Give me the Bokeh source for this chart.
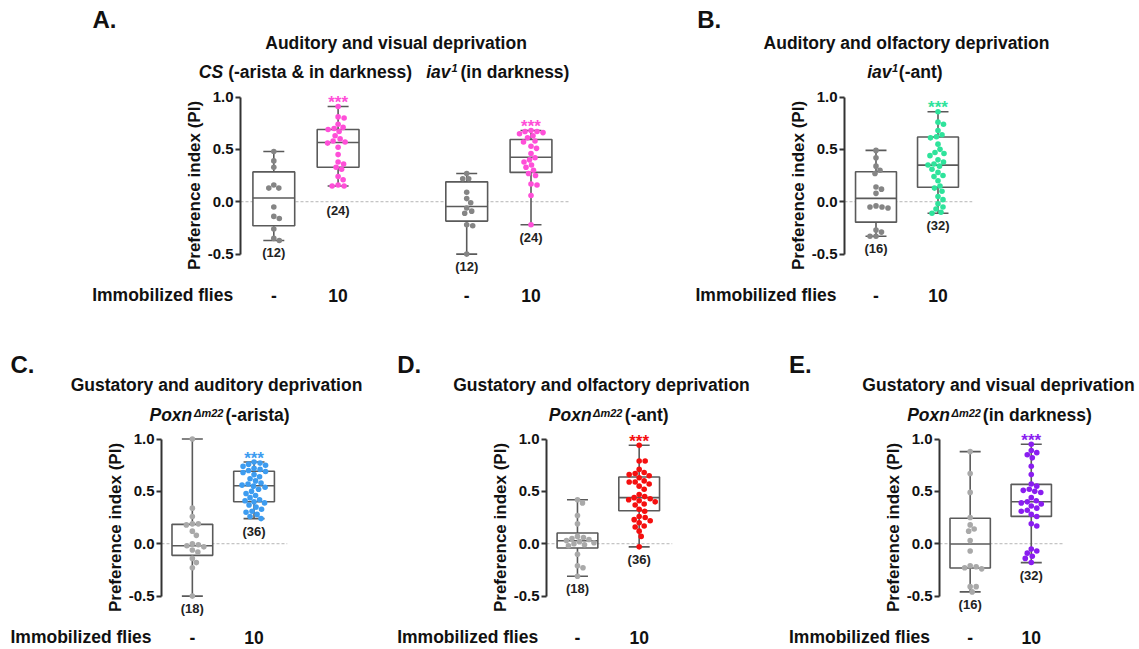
import numpy as np
from bokeh.plotting import figure
from bokeh.models import Span, ColumnDataSource, Range1d, FixedTicker
from bokeh.layouts import row, column
from bokeh.embed import file_html
from bokeh.resources import INLINE
from bokeh.core.properties import value

# ---------------- data ----------------
y_ticks = [-0.5, 0.0, 0.5, 1.0]
y_tick_labels = ["-0.5", "0.0", "0.5", "1.0"]
immobilized = ["-", "10"]

# Panel A: CS (-arista & in darkness) | iav1 (in darkness)
A_cs_ctrl = [0.48, 0.39, 0.33, 0.16, 0.13, 0.13, -0.05, -0.14, -0.16, -0.26, -0.35, -0.37]
A_cs_imm = [0.91, 0.81, 0.80, 0.74, 0.71, 0.70, 0.69, 0.67, 0.63, 0.60, 0.58, 0.57,
            0.56, 0.52, 0.45, 0.38, 0.36, 0.33, 0.31, 0.24, 0.21, 0.16, 0.15, 0.15]
A_iav_ctrl = [0.27, 0.22, 0.22, 0.09, 0.03, -0.01, -0.06, -0.09, -0.11, -0.22, -0.23, -0.50]
A_iav_imm = [0.68, 0.67, 0.67, 0.66, 0.65, 0.63, 0.61, 0.58, 0.57, 0.53, 0.51, 0.46,
             0.42, 0.40, 0.38, 0.35, 0.33, 0.30, 0.27, 0.25, 0.17, 0.16, 0.06, -0.22]
A_q1 = [-0.23, 0.33, -0.185, 0.28]
A_med = [0.035, 0.565, -0.045, 0.425]
A_q3 = [0.285, 0.69, 0.19, 0.595]

# Panel B: iav1 (-ant)
B_ctrl = [0.49, 0.42, 0.34, 0.30, 0.27, 0.14, 0.12, 0.08, -0.04, -0.05, -0.05, -0.06,
          -0.27, -0.29, -0.33, -0.33]
B_imm = [0.86, 0.76, 0.74, 0.68, 0.64, 0.62, 0.61, 0.55, 0.50, 0.47, 0.46, 0.44, 0.40,
         0.38, 0.36, 0.35, 0.34, 0.31, 0.28, 0.25, 0.24, 0.20, 0.15, 0.13, 0.10, 0.05,
         0.02, -0.02, -0.05, -0.07, -0.10, -0.11]
B_q1 = [-0.195, 0.138]
B_med = [0.032, 0.35]
B_q3 = [0.287, 0.618]

# Panel C: Poxn (-arista)
C_ctrl = [1.0, 0.34, 0.26, 0.19, 0.19, 0.18, 0.12, 0.08, 0.0, -0.01, -0.02, -0.03,
          -0.06, -0.08, -0.14, -0.18, -0.23, -0.50]
C_imm = [0.78, 0.77, 0.76, 0.75, 0.74, 0.72, 0.71, 0.70, 0.69, 0.68, 0.66, 0.64, 0.62,
         0.60, 0.58, 0.57, 0.56, 0.55, 0.54, 0.52, 0.50, 0.48, 0.46, 0.44, 0.42, 0.41,
         0.40, 0.39, 0.37, 0.35, 0.33, 0.31, 0.30, 0.28, 0.26, 0.24]
C_q1 = [-0.111, 0.401]
C_med = [-0.019, 0.554]
C_q3 = [0.185, 0.692]

# Panel D: Poxn (-ant)
D_ctrl = [0.42, 0.39, 0.27, 0.19, 0.07, 0.06, 0.05, 0.04, 0.03, 0.02, 0.01, 0.0,
          -0.01, -0.02, -0.10, -0.21, -0.23, -0.31]
D_imm = [0.94, 0.79, 0.79, 0.71, 0.68, 0.67, 0.66, 0.65, 0.63, 0.60, 0.59, 0.59, 0.57,
         0.55, 0.52, 0.47, 0.45, 0.44, 0.43, 0.42, 0.41, 0.40, 0.38, 0.37, 0.33, 0.31,
         0.26, 0.25, 0.23, 0.22, 0.20, 0.17, 0.16, 0.12, 0.07, -0.03]
D_q1 = [-0.041, 0.315]
D_med = [0.029, 0.44]
D_q3 = [0.102, 0.637]

# Panel E: Poxn (in darkness)
E_ctrl = [0.88, 0.67, 0.49, 0.25, 0.18, 0.14, 0.12, 0.03, -0.07, -0.21, -0.22, -0.23,
          -0.24, -0.41, -0.41, -0.46]
E_imm = [0.95, 0.89, 0.87, 0.85, 0.82, 0.74, 0.66, 0.57, 0.55, 0.52, 0.51, 0.50, 0.49,
         0.44, 0.41, 0.40, 0.39, 0.38, 0.36, 0.34, 0.32, 0.31, 0.28, 0.26, 0.19, 0.17,
         -0.05, -0.07, -0.09, -0.12, -0.14, -0.18]
E_q1 = [-0.232, 0.261]
E_med = [-0.003, 0.401]
E_q3 = [0.243, 0.567]

# ---------------- styling ----------------
FONT = "Liberation Sans"
TXT = "#111111"
BOXC = "#5a5a5a"
GRAY_DARK = "#858585"
GRAY_LIGHT = "#a9a9a9"
PINK = "#ff4fd8"
GREEN = "#2ee39b"
BLUE = "#3d9cf0"
RED = "#f50f0f"
PURPLE = "#8a1df0"
Y0, Y1 = -0.8, 1.11
FH = 200
TOTAL_W = 1139
TS = 17.5   # title / row-label font size


def swarm_offsets(vals, px_x, px_y, d=5.6, step=0.5):
    vals = np.asarray(vals, float)
    order = np.argsort(-vals, kind="stable")
    px_list, py_list = [], []
    off = np.zeros(len(vals))
    cands = [0.0]
    for k in range(1, 90):
        cands += [k * step, -k * step]
    for i in order:
        y = vals[i] * px_y
        for c in cands:
            if all((px - c) ** 2 + (py - y) ** 2 >= d * d for px, py in zip(px_list, py_list)):
                off[i] = c
                break
        px_list.append(off[i])
        py_list.append(y)
    return off / px_x


class Panel:
    def __init__(self, fig_left, W, mbl, fw, xs, unit):
        self.fl = fig_left + mbl
        self.unit = unit
        self.x0 = xs
        self.x1 = xs + fw / unit
        self.p = figure(width=W, height=FH, title=None, output_backend="svg",
                        toolbar_location=None, x_range=Range1d(self.x0, self.x1),
                        y_range=Range1d(Y0, Y1), x_axis_location=None,
                        min_border_left=mbl, min_border_right=W - mbl - fw,
                        min_border_top=0, min_border_bottom=0)
        p = self.p
        p.grid.visible = False
        p.outline_line_color = None
        p.background_fill_color = "white"
        p.border_fill_color = "white"
        ax = p.yaxis[0]
        ax.bounds = (-0.5, 1.0)
        ax.ticker = FixedTicker(ticks=y_ticks)
        ax.major_label_overrides = {t: l for t, l in zip(y_ticks, y_tick_labels)}
        ax.minor_tick_line_color = None
        ax.major_tick_in = 0
        ax.major_tick_out = 5
        ax.major_tick_line_width = 2
        ax.major_tick_line_color = "#333333"
        ax.axis_line_width = 2
        ax.axis_line_color = "#333333"
        ax.major_label_standoff = 2
        ax.major_label_text_font = FONT
        ax.major_label_text_font_style = "bold"
        ax.major_label_text_font_size = "15px"
        ax.major_label_text_color = TXT
        ax.axis_label = "Preference index (PI)"
        ax.axis_label_text_font = FONT
        ax.axis_label_text_font_style = "bold"
        ax.axis_label_text_font_size = "17px"
        ax.axis_label_text_color = TXT
        ax.axis_label_standoff = 1
        p.add_layout(Span(location=0, dimension="width", line_color="#b5b5b5",
                          line_dash="3 2", line_width=1, level="underlay"))

    def px(self, x):
        # page x of a data x
        return self.fl + (x - self.x0) * self.unit

    def groups(self, xs, data, q1, med, q3, colors, bw, n_gap):
        p = self.p
        lo = [min(d) for d in data]
        hi = [max(d) for d in data]
        cap = 0.34 * 61.7 / self.unit
        src = ColumnDataSource(dict(x=xs, l=[x - bw / 2 for x in xs], r=[x + bw / 2 for x in xs],
                                    q1=q1, med=med, q3=q3, lo=lo, hi=hi,
                                    cl=[x - cap / 2 for x in xs], cr=[x + cap / 2 for x in xs],
                                    n=[f"({len(d)})" for d in data],
                                    star=["" if i % 2 == 0 else "***" for i in range(len(xs))],
                                    sc=colors, gap=n_gap))
        lw = 1.6
        p.segment("x", "q3", "x", "hi", source=src, line_color=BOXC, line_width=lw)
        p.segment("x", "q1", "x", "lo", source=src, line_color=BOXC, line_width=lw)
        p.segment("cl", "hi", "cr", "hi", source=src, line_color=BOXC, line_width=lw)
        p.segment("cl", "lo", "cr", "lo", source=src, line_color=BOXC, line_width=lw)
        p.quad(left="l", right="r", bottom="q1", top="q3", source=src,
               fill_color="white", line_color=BOXC, line_width=lw)
        p.segment("l", "med", "r", "med", source=src, line_color=BOXC, line_width=lw)
        for x, d, c in zip(xs, data, colors):
            offs = swarm_offsets(d, self.unit, FH / (Y1 - Y0))
            p.scatter([x + o for o in offs], d, size=5.6, fill_color=c, line_color=None)
        p.text("x", "hi", text="star", source=src, text_color="sc", text_align="center",
               text_baseline="alphabetic", y_offset=-4, text_font=value(FONT),
               text_font_style="bold", text_font_size="17px")
        p.text("x", "lo", text="n", source=src, text_color="#222222", text_align="center",
               text_baseline="top", y_offset="gap", text_font=value(FONT),
               text_font_style="bold", text_font_size="13px")


def strip(y_top, y_bot, items):
    h = int(round(y_bot - y_top))
    s = figure(width=TOTAL_W, height=h, title=None, output_backend="svg",
               toolbar_location=None, x_range=Range1d(0, TOTAL_W),
               y_range=Range1d(y_bot, y_top), x_axis_location=None, y_axis_location=None,
               min_border_left=0, min_border_right=0, min_border_top=0, min_border_bottom=0)
    s.grid.visible = False
    s.outline_line_color = None
    s.background_fill_color = "white"
    s.border_fill_color = "white"
    cols = dict(x=[], y=[], t=[], size=[], style=[], align=[])
    for (x, y, t, size, style, align) in items:
        cols["x"].append(x)
        cols["y"].append(y)
        cols["t"].append(t)
        cols["size"].append(f"{size}px")
        cols["style"].append(style)
        cols["align"].append(align)
    s.text("x", "y", text="t", source=ColumnDataSource(cols), text_font=value(FONT),
           text_font_size="size", text_font_style="style", text_align="align",
           text_baseline="middle", text_color=TXT)
    return s


B_, BI = "bold", "bold italic"

# ---------------- panels ----------------
PA = Panel(0, 660, 240, 330, 0.482, 64.3)
xa = [1, 2, 4, 5]
PA.groups(xa, [A_cs_ctrl, A_cs_imm, A_iav_ctrl, A_iav_imm], A_q1, A_med, A_q3,
          [GRAY_DARK, PINK, GRAY_DARK, PINK], 0.65, [5, 17, 5, 5])
PB = Panel(660, 479, 184, 128, 0.492, 62.0)
xb = [1, 2]
PB.groups(xb, [B_ctrl, B_imm], B_q1, B_med, B_q3, [GRAY_DARK, GREEN], 0.66, [5, 5])

PC = Panel(0, 380, 161, 126, 0.5, 61.7)
PC.groups(xb, [C_ctrl, C_imm], C_q1, C_med, C_q3, [GRAY_LIGHT, BLUE], 0.66, [5, 5])
PD = Panel(380, 390, 166, 126, 0.498, 61.7)
PD.groups(xb, [D_ctrl, D_imm], D_q1, D_med, D_q3, [GRAY_LIGHT, RED], 0.66, [5, 5])
PE = Panel(770, 369, 169, 124, 0.498, 61.1)
PE.groups(xb, [E_ctrl, E_imm], E_q1, E_med, E_q3, [GRAY_LIGHT, PURPLE], 0.66, [5, 5])

# ---------------- text strips (y = visual centre of capitals) ----------------
top_items = [
    (92, 18.5, "A.", 24, B_, "left"),
    (398, 42.7, "Auditory and  visual deprivation", TS, B_, "center"),
    (198.3, 71, "CS", TS, BI, "left"),
    (227.7, 71, "(-arista & in darkness)", TS, B_, "left"),
    (425.7, 71, "iav", TS, BI, "left"),
    (451, 67.5, "1", 11, BI, "left"),
    (460, 71, "(in darkness)", TS, B_, "left"),
    (696.7, 18.5, "B.", 24, B_, "left"),
    (906, 42.7, "Auditory and olfactory deprivation", TS, B_, "center"),
    (866.7, 71.5, "iav", TS, BI, "left"),
    (891.5, 67.8, "1", 11, BI, "left"),
    (898.3, 71.5, "(-ant)", TS, B_, "left"),
]

mid_items = [
    (91.7, 294.8, "Immobilized flies", TS, B_, "left"),
    (695, 294.8, "Immobilized flies", TS, B_, "left"),
]
for x, t in zip(xa, immobilized * 2):
    mid_items.append((PA.px(x), 294.8, t, TS, B_, "center"))
for x, t in zip(xb, immobilized):
    mid_items.append((PB.px(x), 294.8, t, TS, B_, "center"))

row2_titles = [
    (PC, "C.", 10, "Gustatory and auditory deprivation", 216, 149, 193.5, 225, "(-arista)"),
    (PD, "D.", 396.7, "Gustatory and olfactory deprivation", 601, 548.3, 592.5, 624.3, "(-ant)"),
    (PE, "E.", 788.5, "Gustatory and visual deprivation", 998, 906.7, 951, 982.3, "(in darkness)"),
]
bot_items = []
for P, letter, lx, title, tcx, pxx, sx, rx, rest in row2_titles:
    mid_items += [
        (lx, 363.8, letter, 24, B_, "left"),
        (tcx, 384.7, title, TS, B_, "center"),
        (pxx, 414.5, "Poxn", TS, BI, "left"),
        (sx, 412.5, "\u0394m22", 11, BI, "left"),
        (rx, 414.5, rest, TS, B_, "left"),
    ]
    bot_items.append((lx, 636.5, "Immobilized flies", TS, B_, "left"))
    for x, t in zip(xb, immobilized):
        bot_items.append((P.px(x), 636.5, t, TS, B_, "center"))

s_top = strip(0, 85, top_items)
s_mid = strip(285, 427, mid_items)
s_bot = strip(627, 649, bot_items)

layout = column(s_top, row(PA.p, PB.p), s_mid, row(PC.p, PD.p, PE.p), s_bot)
open("out.html", "w").write(file_html(layout, INLINE))
